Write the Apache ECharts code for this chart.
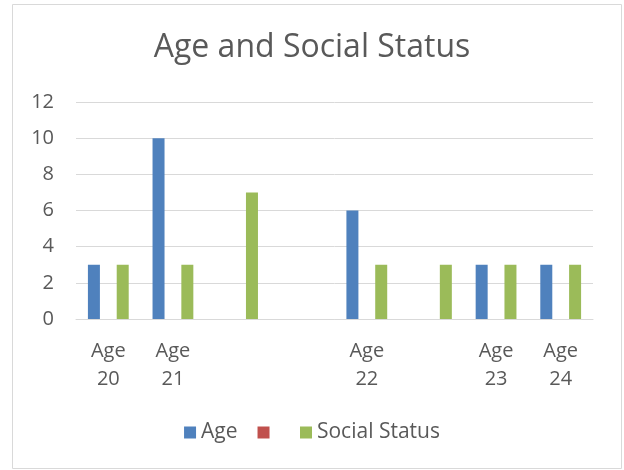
<!DOCTYPE html>
<html><head><meta charset="utf-8">
<script src="https://cdn.jsdelivr.net/npm/echarts@6/dist/echarts.min.js"></script>
<style>html,body{margin:0;padding:0;background:#fff}#c{width:624px;height:470px}</style>
</head><body><div id="c"></div>
<script>
const categories = ['Age\n20', 'Age\n21', '', ' ', 'Age\n22', '  ', 'Age\n23', 'Age\n24'];
const ageValues = [3, 10, 0, 0, 6, 0, 3, 3];
const redValues = [0, 0, 0, 0, 0, 0, 0, 0];
const socialValues = [3, 3, 7, 0, 3, 3, 3, 3];
const seriesNames = ['Age', ' ', 'Social Status'];
const colors = ['#4f81bd', '#c0504d', '#9bbb59'];
const FONT = '"Open Sans", "Noto Sans", sans-serif';
const chart = echarts.init(document.getElementById('c'));
chart.setOption({
  animation: false,
  color: colors,
  textStyle: {fontFamily: FONT},
  graphic: [{type: 'rect', shape: {x: 12.5, y: 4.5, width: 609, height: 464}, style: {fill: 'none', stroke: '#d9d9d9', lineWidth: 1}, silent: true}],
  title: {text: 'Age and Social Status', left: 'center', top: 27, textStyle: {fontFamily: FONT, fontSize: 32, fontWeight: 'normal', color: '#595959'}},
  legend: {data: seriesNames, bottom: 22, left: 'center', itemWidth: 12, itemHeight: 12, itemGap: 20, icon: 'rect',
    textStyle: {fontFamily: FONT, fontSize: 21, color: '#595959'}},
  grid: {left: 76, right: 31, top: 102, bottom: 151},
  xAxis: {type: 'category', data: categories,
    axisLine: {lineStyle: {color: '#d9d9d9', width: 1}}, axisTick: {show: false},
    axisLabel: {interval: 0, color: '#595959', fontSize: 20, lineHeight: 28, margin: 18, fontFamily: FONT}},
  yAxis: {type: 'value', min: 0, max: 12, interval: 2,
    axisLine: {show: false}, axisTick: {show: false},
    splitLine: {lineStyle: {color: '#d9d9d9', width: 1}},
    axisLabel: {color: '#595959', fontSize: 20, margin: 22, fontFamily: FONT}},
  series: [
    {name: seriesNames[0], type: 'bar', data: ageValues, barWidth: 12, barGap: '20%'},
    {name: seriesNames[1], type: 'bar', data: redValues, barWidth: 12, barGap: '20%'},
    {name: seriesNames[2], type: 'bar', data: socialValues, barWidth: 12, barGap: '20%'}
  ]
});
</script></body></html>
